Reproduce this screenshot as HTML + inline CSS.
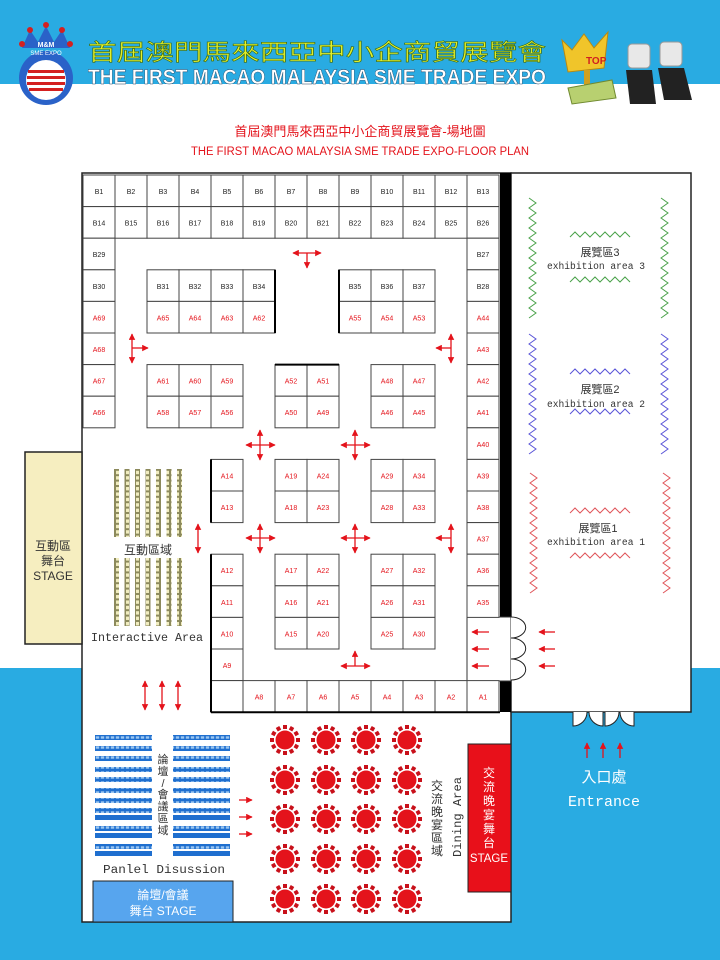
<!DOCTYPE html>
<html><head><meta charset="utf-8"><style>
html,body{margin:0;padding:0;background:#fff}
svg{display:block}
.c{fill:#fff;stroke:#444;stroke-width:1}
.tb{font:7px "Liberation Sans Narrow","Liberation Sans",sans-serif;fill:#222;text-anchor:middle}
.ta{font:7px "Liberation Sans Narrow","Liberation Sans",sans-serif;fill:#e4131b;text-anchor:middle}
.ar{stroke:#e4131b;stroke-width:1.3;fill:none}
.cj{font-family:"Liberation Sans","Noto Sans CJK TC",sans-serif}
</style></head><body>
<svg width="720" height="960" viewBox="0 0 720 960" xmlns="http://www.w3.org/2000/svg">
<defs>
<marker id="ah" viewBox="0 0 10 10" refX="9" refY="5" markerWidth="5" markerHeight="5" orient="auto-start-reverse"><path d="M0,0 L10,5 L0,10 z" fill="#e4131b"/></marker>
<pattern id="seat" width="5" height="5.4" patternUnits="userSpaceOnUse"><rect width="5" height="5.4" fill="#8c8a5c"/><rect x="1" y="1" width="3" height="3.4" fill="#f1edc0"/></pattern>
<pattern id="pan" width="5" height="5" patternUnits="userSpaceOnUse"><rect width="5" height="5" fill="#1f6fcf"/><rect x="0.8" y="1.3" width="3.4" height="2.4" fill="#9cc7f0"/></pattern>
<g id="tbl">
<circle r="9.5" fill="#e4131b"/>
<g fill="#c8101a">
<rect x="-2" y="-15" width="4" height="4"/><rect x="-2" y="-15" width="4" height="4" transform="rotate(30)"/><rect x="-2" y="-15" width="4" height="4" transform="rotate(60)"/><rect x="-2" y="-15" width="4" height="4" transform="rotate(90)"/><rect x="-2" y="-15" width="4" height="4" transform="rotate(120)"/><rect x="-2" y="-15" width="4" height="4" transform="rotate(150)"/><rect x="-2" y="-15" width="4" height="4" transform="rotate(180)"/><rect x="-2" y="-15" width="4" height="4" transform="rotate(210)"/><rect x="-2" y="-15" width="4" height="4" transform="rotate(240)"/><rect x="-2" y="-15" width="4" height="4" transform="rotate(270)"/><rect x="-2" y="-15" width="4" height="4" transform="rotate(300)"/><rect x="-2" y="-15" width="4" height="4" transform="rotate(330)"/>
</g></g>
<path id="zv" d="M0,0 l7,5 l-7,5 l7,5 l-7,5 l7,5 l-7,5 l7,5 l-7,5 l7,5 l-7,5 l7,5 l-7,5 l7,5 l-7,5 l7,5 l-7,5 l7,5 l-7,5 l7,5 l-7,5 l7,5 l-7,5 l7,5 l-7,5" fill="none"/>
<path id="zh" d="M0,0 l5,-5 l5,5 l5,-5 l5,5 l5,-5 l5,5 l5,-5 l5,5 l5,-5 l5,5 l5,-5 l5,5" fill="none"/>
</defs>

<rect x="0" y="0" width="720" height="84" fill="#29abe2"/>
<rect x="0" y="668" width="720" height="292" fill="#29abe2"/>

<g>
<path d="M22,48 L30,30 L38,42 L46,26 L54,42 L62,30 L70,48 Z" fill="#2a62c8"/>
<circle cx="30" cy="30" r="3" fill="#d42020"/><circle cx="46" cy="25" r="3" fill="#d42020"/><circle cx="62" cy="30" r="3" fill="#d42020"/><circle cx="22" cy="44" r="3" fill="#d42020"/><circle cx="70" cy="44" r="3" fill="#d42020"/>
<circle cx="46" cy="78" r="27" fill="#2a62c8"/>
<circle cx="46" cy="80" r="20" fill="#fff"/>
<rect x="28" y="70" width="36" height="3" fill="#d42020"/><rect x="27" y="76" width="38" height="3" fill="#d42020"/><rect x="27" y="82" width="38" height="3" fill="#d42020"/><rect x="29" y="88" width="34" height="3" fill="#d42020"/>
<text x="46" y="47" font-family="Liberation Sans" font-size="7" font-weight="bold" fill="#fff" text-anchor="middle">M&amp;M</text>
<text x="46" y="55" font-family="Liberation Sans" font-size="6" fill="#fff" text-anchor="middle">SME EXPO</text>
</g>
<text x="88" y="60" class="cj" font-size="23" fill="#e3f02c" stroke="#3a6a10" stroke-width="0.6" textLength="458" lengthAdjust="spacingAndGlyphs">首屆澳門馬來西亞中小企商貿展覽會</text>
<text x="88" y="84" font-family="'Liberation Sans Narrow','Liberation Sans',sans-serif" font-size="21" font-weight="bold" fill="#fff" stroke="#1a3a5a" stroke-width="0.4" textLength="458" lengthAdjust="spacingAndGlyphs">THE FIRST MACAO MALAYSIA SME TRADE EXPO</text>
<path d="M562,40 L572,50 L584,34 L594,48 L608,32 L604,68 L568,72 Z" fill="#f0c52a" stroke="#b88a10"/>
<rect x="584" y="70" width="6" height="20" fill="#d0a020"/>
<path d="M568,88 L612,80 L616,98 L572,104 Z" fill="#b8d070" stroke="#708a30"/>
<text x="586" y="64" font-family="Liberation Sans" font-size="10" font-weight="bold" fill="#d02020">TOP</text>
<rect x="628" y="44" width="22" height="24" rx="4" fill="#e8e8e8" stroke="#999"/>
<rect x="660" y="42" width="22" height="24" rx="4" fill="#e8e8e8" stroke="#999"/>
<path d="M626,70 L652,70 L656,104 L630,104 Z" fill="#222"/>
<path d="M658,68 L684,68 L692,100 L664,100 Z" fill="#222"/>

<text x="360" y="136" text-anchor="middle" class="cj" font-size="13" fill="#e4131b">首屆澳門馬來西亞中小企商貿展覽會-場地圖</text>
<text x="360" y="155" text-anchor="middle" font-family="'Liberation Sans Narrow','Liberation Sans',sans-serif" font-size="11.5" fill="#e4131b" textLength="338" lengthAdjust="spacingAndGlyphs">THE FIRST MACAO MALAYSIA SME TRADE EXPO-FLOOR PLAN</text>

<rect x="82" y="173" width="429" height="749" fill="#fff" stroke="#222" stroke-width="1.5"/>
<rect x="511" y="173" width="180" height="539" fill="#fff" stroke="#222" stroke-width="1.5"/>
<rect x="25" y="452" width="57" height="192" fill="#f6eec0" stroke="#222" stroke-width="1.5"/>
<text x="53" y="550" text-anchor="middle" class="cj" font-size="12" fill="#333">互動區</text>
<text x="53" y="565" text-anchor="middle" class="cj" font-size="12" fill="#333">舞台</text>
<text x="53" y="580" text-anchor="middle" font-family="Liberation Sans" font-size="12" fill="#333">STAGE</text>

<rect x="500" y="173" width="11" height="444" fill="#000"/>
<rect x="500" y="681" width="11" height="31" fill="#000"/>
<rect x="467" y="617" width="44" height="64" fill="#fff" stroke="#333" stroke-width="1"/>
<g fill="#fff" stroke="#222" stroke-width="1">
<path d="M511,617 A14,10 0 0 1 511,638"/><path d="M511,638 A14,10 0 0 1 511,659"/><path d="M511,659 A14,10 0 0 1 511,680"/>
<path d="M573,712 L573,726 A14,14 0 0 0 587,712"/><path d="M603,712 L603,726 A14,14 0 0 1 589,712"/><path d="M605,712 L605,726 A14,14 0 0 0 619,712"/><path d="M634,712 L634,726 A14,14 0 0 1 620,712"/>
</g>

<g>
<rect class="c" x="83" y="175" width="32" height="31.6"/><text class="tb" x="99" y="194">B1</text>
<rect class="c" x="115" y="175" width="32" height="31.6"/><text class="tb" x="131" y="194">B2</text>
<rect class="c" x="147" y="175" width="32" height="31.6"/><text class="tb" x="163" y="194">B3</text>
<rect class="c" x="179" y="175" width="32" height="31.6"/><text class="tb" x="195" y="194">B4</text>
<rect class="c" x="211" y="175" width="32" height="31.6"/><text class="tb" x="227" y="194">B5</text>
<rect class="c" x="243" y="175" width="32" height="31.6"/><text class="tb" x="259" y="194">B6</text>
<rect class="c" x="275" y="175" width="32" height="31.6"/><text class="tb" x="291" y="194">B7</text>
<rect class="c" x="307" y="175" width="32" height="31.6"/><text class="tb" x="323" y="194">B8</text>
<rect class="c" x="339" y="175" width="32" height="31.6"/><text class="tb" x="355" y="194">B9</text>
<rect class="c" x="371" y="175" width="32" height="31.6"/><text class="tb" x="387" y="194">B10</text>
<rect class="c" x="403" y="175" width="32" height="31.6"/><text class="tb" x="419" y="194">B11</text>
<rect class="c" x="435" y="175" width="32" height="31.6"/><text class="tb" x="451" y="194">B12</text>
<rect class="c" x="467" y="175" width="32" height="31.6"/><text class="tb" x="483" y="194">B13</text>
<rect class="c" x="83" y="206.6" width="32" height="31.6"/><text class="tb" x="99" y="225.6">B14</text>
<rect class="c" x="115" y="206.6" width="32" height="31.6"/><text class="tb" x="131" y="225.6">B15</text>
<rect class="c" x="147" y="206.6" width="32" height="31.6"/><text class="tb" x="163" y="225.6">B16</text>
<rect class="c" x="179" y="206.6" width="32" height="31.6"/><text class="tb" x="195" y="225.6">B17</text>
<rect class="c" x="211" y="206.6" width="32" height="31.6"/><text class="tb" x="227" y="225.6">B18</text>
<rect class="c" x="243" y="206.6" width="32" height="31.6"/><text class="tb" x="259" y="225.6">B19</text>
<rect class="c" x="275" y="206.6" width="32" height="31.6"/><text class="tb" x="291" y="225.6">B20</text>
<rect class="c" x="307" y="206.6" width="32" height="31.6"/><text class="tb" x="323" y="225.6">B21</text>
<rect class="c" x="339" y="206.6" width="32" height="31.6"/><text class="tb" x="355" y="225.6">B22</text>
<rect class="c" x="371" y="206.6" width="32" height="31.6"/><text class="tb" x="387" y="225.6">B23</text>
<rect class="c" x="403" y="206.6" width="32" height="31.6"/><text class="tb" x="419" y="225.6">B24</text>
<rect class="c" x="435" y="206.6" width="32" height="31.6"/><text class="tb" x="451" y="225.6">B25</text>
<rect class="c" x="467" y="206.6" width="32" height="31.6"/><text class="tb" x="483" y="225.6">B26</text>
<rect class="c" x="83" y="238.2" width="32" height="31.6"/><text class="tb" x="99" y="257.2">B29</text>
<rect class="c" x="467" y="238.2" width="32" height="31.6"/><text class="tb" x="483" y="257.2">B27</text>
<rect class="c" x="83" y="269.8" width="32" height="31.6"/><text class="tb" x="99" y="288.8">B30</text>
<rect class="c" x="147" y="269.8" width="32" height="31.6"/><text class="tb" x="163" y="288.8">B31</text>
<rect class="c" x="179" y="269.8" width="32" height="31.6"/><text class="tb" x="195" y="288.8">B32</text>
<rect class="c" x="211" y="269.8" width="32" height="31.6"/><text class="tb" x="227" y="288.8">B33</text>
<rect class="c" x="243" y="269.8" width="32" height="31.6"/><text class="tb" x="259" y="288.8">B34</text>
<rect class="c" x="339" y="269.8" width="32" height="31.6"/><text class="tb" x="355" y="288.8">B35</text>
<rect class="c" x="371" y="269.8" width="32" height="31.6"/><text class="tb" x="387" y="288.8">B36</text>
<rect class="c" x="403" y="269.8" width="32" height="31.6"/><text class="tb" x="419" y="288.8">B37</text>
<rect class="c" x="467" y="269.8" width="32" height="31.6"/><text class="tb" x="483" y="288.8">B28</text>
<rect class="c" x="83" y="301.4" width="32" height="31.6"/><text class="ta" x="99" y="320.4">A69</text>
<rect class="c" x="147" y="301.4" width="32" height="31.6"/><text class="ta" x="163" y="320.4">A65</text>
<rect class="c" x="179" y="301.4" width="32" height="31.6"/><text class="ta" x="195" y="320.4">A64</text>
<rect class="c" x="211" y="301.4" width="32" height="31.6"/><text class="ta" x="227" y="320.4">A63</text>
<rect class="c" x="243" y="301.4" width="32" height="31.6"/><text class="ta" x="259" y="320.4">A62</text>
<rect class="c" x="339" y="301.4" width="32" height="31.6"/><text class="ta" x="355" y="320.4">A55</text>
<rect class="c" x="371" y="301.4" width="32" height="31.6"/><text class="ta" x="387" y="320.4">A54</text>
<rect class="c" x="403" y="301.4" width="32" height="31.6"/><text class="ta" x="419" y="320.4">A53</text>
<rect class="c" x="467" y="301.4" width="32" height="31.6"/><text class="ta" x="483" y="320.4">A44</text>
<rect class="c" x="83" y="333" width="32" height="31.6"/><text class="ta" x="99" y="352">A68</text>
<rect class="c" x="467" y="333" width="32" height="31.6"/><text class="ta" x="483" y="352">A43</text>
<rect class="c" x="83" y="364.6" width="32" height="31.6"/><text class="ta" x="99" y="383.6">A67</text>
<rect class="c" x="147" y="364.6" width="32" height="31.6"/><text class="ta" x="163" y="383.6">A61</text>
<rect class="c" x="179" y="364.6" width="32" height="31.6"/><text class="ta" x="195" y="383.6">A60</text>
<rect class="c" x="211" y="364.6" width="32" height="31.6"/><text class="ta" x="227" y="383.6">A59</text>
<rect class="c" x="275" y="364.6" width="32" height="31.6"/><text class="ta" x="291" y="383.6">A52</text>
<rect class="c" x="307" y="364.6" width="32" height="31.6"/><text class="ta" x="323" y="383.6">A51</text>
<rect class="c" x="371" y="364.6" width="32" height="31.6"/><text class="ta" x="387" y="383.6">A48</text>
<rect class="c" x="403" y="364.6" width="32" height="31.6"/><text class="ta" x="419" y="383.6">A47</text>
<rect class="c" x="467" y="364.6" width="32" height="31.6"/><text class="ta" x="483" y="383.6">A42</text>
<rect class="c" x="83" y="396.2" width="32" height="31.6"/><text class="ta" x="99" y="415.2">A66</text>
<rect class="c" x="147" y="396.2" width="32" height="31.6"/><text class="ta" x="163" y="415.2">A58</text>
<rect class="c" x="179" y="396.2" width="32" height="31.6"/><text class="ta" x="195" y="415.2">A57</text>
<rect class="c" x="211" y="396.2" width="32" height="31.6"/><text class="ta" x="227" y="415.2">A56</text>
<rect class="c" x="275" y="396.2" width="32" height="31.6"/><text class="ta" x="291" y="415.2">A50</text>
<rect class="c" x="307" y="396.2" width="32" height="31.6"/><text class="ta" x="323" y="415.2">A49</text>
<rect class="c" x="371" y="396.2" width="32" height="31.6"/><text class="ta" x="387" y="415.2">A46</text>
<rect class="c" x="403" y="396.2" width="32" height="31.6"/><text class="ta" x="419" y="415.2">A45</text>
<rect class="c" x="467" y="396.2" width="32" height="31.6"/><text class="ta" x="483" y="415.2">A41</text>
<rect class="c" x="467" y="427.8" width="32" height="31.6"/><text class="ta" x="483" y="446.8">A40</text>
<rect class="c" x="211" y="459.4" width="32" height="31.6"/><text class="ta" x="227" y="478.4">A14</text>
<rect class="c" x="275" y="459.4" width="32" height="31.6"/><text class="ta" x="291" y="478.4">A19</text>
<rect class="c" x="307" y="459.4" width="32" height="31.6"/><text class="ta" x="323" y="478.4">A24</text>
<rect class="c" x="371" y="459.4" width="32" height="31.6"/><text class="ta" x="387" y="478.4">A29</text>
<rect class="c" x="403" y="459.4" width="32" height="31.6"/><text class="ta" x="419" y="478.4">A34</text>
<rect class="c" x="467" y="459.4" width="32" height="31.6"/><text class="ta" x="483" y="478.4">A39</text>
<rect class="c" x="211" y="491" width="32" height="31.6"/><text class="ta" x="227" y="510">A13</text>
<rect class="c" x="275" y="491" width="32" height="31.6"/><text class="ta" x="291" y="510">A18</text>
<rect class="c" x="307" y="491" width="32" height="31.6"/><text class="ta" x="323" y="510">A23</text>
<rect class="c" x="371" y="491" width="32" height="31.6"/><text class="ta" x="387" y="510">A28</text>
<rect class="c" x="403" y="491" width="32" height="31.6"/><text class="ta" x="419" y="510">A33</text>
<rect class="c" x="467" y="491" width="32" height="31.6"/><text class="ta" x="483" y="510">A38</text>
<rect class="c" x="467" y="522.6" width="32" height="31.6"/><text class="ta" x="483" y="541.6">A37</text>
<rect class="c" x="211" y="554.2" width="32" height="31.6"/><text class="ta" x="227" y="573.2">A12</text>
<rect class="c" x="275" y="554.2" width="32" height="31.6"/><text class="ta" x="291" y="573.2">A17</text>
<rect class="c" x="307" y="554.2" width="32" height="31.6"/><text class="ta" x="323" y="573.2">A22</text>
<rect class="c" x="371" y="554.2" width="32" height="31.6"/><text class="ta" x="387" y="573.2">A27</text>
<rect class="c" x="403" y="554.2" width="32" height="31.6"/><text class="ta" x="419" y="573.2">A32</text>
<rect class="c" x="467" y="554.2" width="32" height="31.6"/><text class="ta" x="483" y="573.2">A36</text>
<rect class="c" x="211" y="585.8" width="32" height="31.6"/><text class="ta" x="227" y="604.8">A11</text>
<rect class="c" x="275" y="585.8" width="32" height="31.6"/><text class="ta" x="291" y="604.8">A16</text>
<rect class="c" x="307" y="585.8" width="32" height="31.6"/><text class="ta" x="323" y="604.8">A21</text>
<rect class="c" x="371" y="585.8" width="32" height="31.6"/><text class="ta" x="387" y="604.8">A26</text>
<rect class="c" x="403" y="585.8" width="32" height="31.6"/><text class="ta" x="419" y="604.8">A31</text>
<rect class="c" x="467" y="585.8" width="32" height="31.6"/><text class="ta" x="483" y="604.8">A35</text>
<rect class="c" x="211" y="617.4" width="32" height="31.6"/><text class="ta" x="227" y="636.4">A10</text>
<rect class="c" x="275" y="617.4" width="32" height="31.6"/><text class="ta" x="291" y="636.4">A15</text>
<rect class="c" x="307" y="617.4" width="32" height="31.6"/><text class="ta" x="323" y="636.4">A20</text>
<rect class="c" x="371" y="617.4" width="32" height="31.6"/><text class="ta" x="387" y="636.4">A25</text>
<rect class="c" x="403" y="617.4" width="32" height="31.6"/><text class="ta" x="419" y="636.4">A30</text>
<rect class="c" x="211" y="649" width="32" height="31.6"/><text class="ta" x="227" y="668">A9</text>
<rect class="c" x="211" y="680.6" width="32" height="31.6"/>
<rect class="c" x="243" y="680.6" width="32" height="31.6"/><text class="ta" x="259" y="699.6">A8</text>
<rect class="c" x="275" y="680.6" width="32" height="31.6"/><text class="ta" x="291" y="699.6">A7</text>
<rect class="c" x="307" y="680.6" width="32" height="31.6"/><text class="ta" x="323" y="699.6">A6</text>
<rect class="c" x="339" y="680.6" width="32" height="31.6"/><text class="ta" x="355" y="699.6">A5</text>
<rect class="c" x="371" y="680.6" width="32" height="31.6"/><text class="ta" x="387" y="699.6">A4</text>
<rect class="c" x="403" y="680.6" width="32" height="31.6"/><text class="ta" x="419" y="699.6">A3</text>
<rect class="c" x="435" y="680.6" width="32" height="31.6"/><text class="ta" x="451" y="699.6">A2</text>
<rect class="c" x="467" y="680.6" width="32" height="31.6"/><text class="ta" x="483" y="699.6">A1</text>
</g>
<g stroke="#000" stroke-width="2">
<line x1="275" y1="269.8" x2="275" y2="333"/>
<line x1="339" y1="269.8" x2="339" y2="333"/>
<line x1="275" y1="364.6" x2="339" y2="364.6"/>
<line x1="211" y1="459.4" x2="211" y2="522.6"/>
<line x1="211" y1="554.2" x2="211" y2="712.2"/>
<line x1="211" y1="712.2" x2="500" y2="712.2"/>
</g>

<g class="ar">
<line x1="293" y1="253" x2="321" y2="253" marker-start="url(#ah)" marker-end="url(#ah)"/><line x1="307" y1="253" x2="307" y2="268" marker-end="url(#ah)"/>
<line x1="132" y1="334" x2="132" y2="363" marker-start="url(#ah)" marker-end="url(#ah)"/><line x1="132" y1="348" x2="148" y2="348" marker-end="url(#ah)"/>
<line x1="451" y1="334" x2="451" y2="363" marker-start="url(#ah)" marker-end="url(#ah)"/><line x1="451" y1="348" x2="436" y2="348" marker-end="url(#ah)"/>
<line x1="246" y1="445" x2="275" y2="445" marker-start="url(#ah)" marker-end="url(#ah)"/><line x1="260" y1="430" x2="260" y2="460" marker-start="url(#ah)" marker-end="url(#ah)"/>
<line x1="341" y1="445" x2="370" y2="445" marker-start="url(#ah)" marker-end="url(#ah)"/><line x1="355" y1="430" x2="355" y2="460" marker-start="url(#ah)" marker-end="url(#ah)"/>
<line x1="246" y1="538" x2="275" y2="538" marker-start="url(#ah)" marker-end="url(#ah)"/><line x1="260" y1="524" x2="260" y2="553" marker-start="url(#ah)" marker-end="url(#ah)"/>
<line x1="341" y1="538" x2="370" y2="538" marker-start="url(#ah)" marker-end="url(#ah)"/><line x1="355" y1="524" x2="355" y2="553" marker-start="url(#ah)" marker-end="url(#ah)"/>
<line x1="451" y1="524" x2="451" y2="553" marker-start="url(#ah)" marker-end="url(#ah)"/><line x1="451" y1="538" x2="436" y2="538" marker-end="url(#ah)"/>
<line x1="198" y1="524" x2="198" y2="553" marker-start="url(#ah)" marker-end="url(#ah)"/>
<line x1="341" y1="666" x2="370" y2="666" marker-start="url(#ah)" marker-end="url(#ah)"/><line x1="355" y1="666" x2="355" y2="651" marker-end="url(#ah)"/>
<line x1="145" y1="681" x2="145" y2="710" marker-start="url(#ah)" marker-end="url(#ah)"/>
<line x1="162" y1="681" x2="162" y2="710" marker-start="url(#ah)" marker-end="url(#ah)"/>
<line x1="178" y1="681" x2="178" y2="710" marker-start="url(#ah)" marker-end="url(#ah)"/>
<line x1="489" y1="632" x2="472" y2="632" marker-end="url(#ah)"/><line x1="489" y1="649" x2="472" y2="649" marker-end="url(#ah)"/><line x1="489" y1="666" x2="472" y2="666" marker-end="url(#ah)"/>
<line x1="555" y1="632" x2="539" y2="632" marker-end="url(#ah)"/><line x1="555" y1="649" x2="539" y2="649" marker-end="url(#ah)"/><line x1="555" y1="666" x2="539" y2="666" marker-end="url(#ah)"/>
<line x1="239" y1="800" x2="252" y2="800" marker-end="url(#ah)"/><line x1="239" y1="817" x2="252" y2="817" marker-end="url(#ah)"/><line x1="239" y1="834" x2="252" y2="834" marker-end="url(#ah)"/>
<line x1="587" y1="758" x2="587" y2="743" marker-end="url(#ah)"/><line x1="603" y1="758" x2="603" y2="743" marker-end="url(#ah)"/><line x1="620" y1="758" x2="620" y2="743" marker-end="url(#ah)"/>
</g>

<g fill="url(#seat)">
<rect x="114" y="469" width="5" height="68"/><rect x="124.5" y="469" width="5" height="68"/><rect x="135" y="469" width="5" height="68"/><rect x="145.5" y="469" width="5" height="68"/><rect x="156" y="469" width="5" height="68"/><rect x="166.5" y="469" width="5" height="68"/><rect x="177" y="469" width="5" height="68"/>
<rect x="114" y="558" width="5" height="68"/><rect x="124.5" y="558" width="5" height="68"/><rect x="135" y="558" width="5" height="68"/><rect x="145.5" y="558" width="5" height="68"/><rect x="156" y="558" width="5" height="68"/><rect x="166.5" y="558" width="5" height="68"/><rect x="177" y="558" width="5" height="68"/>
</g>
<text x="148" y="554" text-anchor="middle" class="cj" font-size="12" fill="#333">互動區域</text>
<text x="147" y="641" text-anchor="middle" font-family="Liberation Mono" font-size="11.5" fill="#333" textLength="112" lengthAdjust="spacingAndGlyphs">Interactive Area</text>

<g fill="url(#pan)">
<rect x="95" y="735" width="57" height="5"/><rect x="173" y="735" width="57" height="5"/>
<rect x="95" y="746" width="57" height="5"/><rect x="173" y="746" width="57" height="5"/>
<rect x="95" y="756" width="57" height="5"/><rect x="173" y="756" width="57" height="5"/>
<rect x="95" y="767" width="57" height="5"/><rect x="173" y="767" width="57" height="5"/>
<rect x="95" y="777" width="57" height="5"/><rect x="173" y="777" width="57" height="5"/>
<rect x="95" y="788" width="57" height="5"/><rect x="173" y="788" width="57" height="5"/>
<rect x="95" y="798" width="57" height="5"/><rect x="173" y="798" width="57" height="5"/>
<rect x="95" y="808" width="57" height="5"/><rect x="173" y="808" width="57" height="5"/>
<rect x="95" y="826" width="57" height="5"/><rect x="173" y="826" width="57" height="5"/>
<rect x="95" y="844" width="57" height="5"/><rect x="173" y="844" width="57" height="5"/>
</g>
<g fill="#1f6fcf">
<rect x="95" y="815" width="57" height="5"/><rect x="173" y="815" width="57" height="5"/>
<rect x="95" y="833" width="57" height="5"/><rect x="173" y="833" width="57" height="5"/>
<rect x="95" y="851" width="57" height="5"/><rect x="173" y="851" width="57" height="5"/>
</g>
<text x="163" y="763" text-anchor="middle" class="cj" font-size="11" fill="#333"><tspan x="163" dy="0">論</tspan><tspan x="163" dy="12">壇</tspan><tspan x="163" dy="12">/</tspan><tspan x="163" dy="11">會</tspan><tspan x="163" dy="12">議</tspan><tspan x="163" dy="12">區</tspan><tspan x="163" dy="12">域</tspan></text>
<text x="164" y="873" text-anchor="middle" font-family="Liberation Mono" font-size="11.5" fill="#333" textLength="122" lengthAdjust="spacingAndGlyphs">Panlel  Disussion</text>
<rect x="93" y="881" width="140" height="41" fill="#57a5ee" stroke="#222" stroke-width="1"/>
<text x="163" y="899" text-anchor="middle" class="cj" font-size="12" fill="#fff">論壇/會議</text>
<text x="163" y="915" text-anchor="middle" class="cj" font-size="12" fill="#fff">舞台 STAGE</text>

<g>
<use href="#tbl" x="285" y="740"/><use href="#tbl" x="326" y="740"/><use href="#tbl" x="366" y="740"/><use href="#tbl" x="407" y="740"/>
<use href="#tbl" x="285" y="780"/><use href="#tbl" x="326" y="780"/><use href="#tbl" x="366" y="780"/><use href="#tbl" x="407" y="780"/>
<use href="#tbl" x="285" y="819"/><use href="#tbl" x="326" y="819"/><use href="#tbl" x="366" y="819"/><use href="#tbl" x="407" y="819"/>
<use href="#tbl" x="285" y="859"/><use href="#tbl" x="326" y="859"/><use href="#tbl" x="366" y="859"/><use href="#tbl" x="407" y="859"/>
<use href="#tbl" x="285" y="899"/><use href="#tbl" x="326" y="899"/><use href="#tbl" x="366" y="899"/><use href="#tbl" x="407" y="899"/>
</g>
<text class="cj" font-size="12" fill="#333" text-anchor="middle"><tspan x="437" y="790">交</tspan><tspan x="437" dy="13">流</tspan><tspan x="437" dy="13">晚</tspan><tspan x="437" dy="13">宴</tspan><tspan x="437" dy="13">區</tspan><tspan x="437" dy="13">域</tspan></text>
<text transform="translate(461,857) rotate(-90)" font-family="Liberation Mono" font-size="12" fill="#333" textLength="80" lengthAdjust="spacingAndGlyphs">Dining Area</text>
<rect x="468" y="744" width="43" height="148" fill="#e8101a" stroke="#222" stroke-width="1"/>
<text class="cj" font-size="12" fill="#fff" text-anchor="middle"><tspan x="489" y="777">交</tspan><tspan x="489" dy="14">流</tspan><tspan x="489" dy="14">晚</tspan><tspan x="489" dy="14">宴</tspan><tspan x="489" dy="14">舞</tspan><tspan x="489" dy="14">台</tspan></text>
<text x="489" y="862" text-anchor="middle" font-family="Liberation Sans" font-size="11.5" fill="#fff">STAGE</text>

<g stroke="#4aa24a" stroke-width="1"><use href="#zv" x="529" y="198"/><use href="#zv" x="661" y="198"/><use href="#zh" x="570" y="237"/><use href="#zh" x="570" y="282"/></g>
<text x="600" y="256" text-anchor="middle" class="cj" font-size="11" fill="#333">展覽區3</text>
<text x="596" y="269" text-anchor="middle" font-family="Liberation Mono" font-size="10" fill="#333" textLength="98" lengthAdjust="spacingAndGlyphs">exhibition area 3</text>
<g stroke="#5a55d8" stroke-width="1"><use href="#zv" x="529" y="334"/><use href="#zv" x="661" y="334"/><use href="#zh" x="570" y="374"/><use href="#zh" x="570" y="414"/></g>
<text x="600" y="393" text-anchor="middle" class="cj" font-size="11" fill="#333">展覽區2</text>
<text x="596" y="407" text-anchor="middle" font-family="Liberation Mono" font-size="10" fill="#333" textLength="98" lengthAdjust="spacingAndGlyphs">exhibition area 2</text>
<g stroke="#e0555a" stroke-width="1"><use href="#zv" x="530" y="473"/><use href="#zv" x="663" y="473"/><use href="#zh" x="570" y="513"/><use href="#zh" x="570" y="558"/></g>
<text x="598" y="532" text-anchor="middle" class="cj" font-size="11" fill="#333">展覽區1</text>
<text x="596" y="545" text-anchor="middle" font-family="Liberation Mono" font-size="10" fill="#333" textLength="98" lengthAdjust="spacingAndGlyphs">exhibition area 1</text>

<text x="604" y="782" text-anchor="middle" class="cj" font-size="15" fill="#fff">入口處</text>
<text x="604" y="806" text-anchor="middle" font-family="Liberation Mono" font-size="15" fill="#fff">Entrance</text>
</svg>
</body></html>
